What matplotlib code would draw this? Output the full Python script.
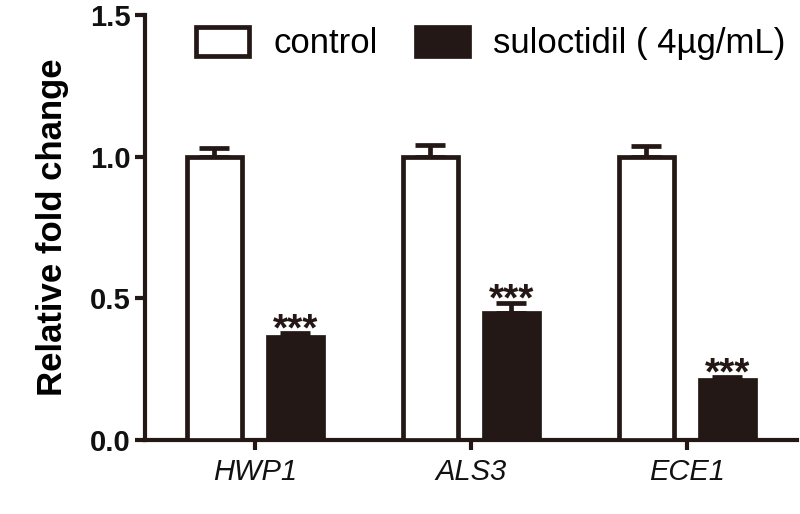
import matplotlib
matplotlib.use("Agg")
import matplotlib.pyplot as plt
import numpy as np

plt.rcParams['font.family'] = ['Liberation Sans', 'DejaVu Sans']

genes = ["HWP1", "ALS3", "ECE1"]
control = [1.0, 1.0, 1.0]
control_err = [0.03, 0.042, 0.038]
sulo = [0.365, 0.447, 0.21]
sulo_err = [0.012, 0.036, 0.012]
labels = ["control", "suloctidil ( 4\u00b5g/mL)"]
sig = ["***", "***", "***"]

dark = "#231815"
fig = plt.figure(figsize=(8, 5.14), dpi=100)
ax = fig.add_axes([0.181, 0.144, 0.815, 0.827])

x = np.arange(len(genes))
w = 0.255
off = 0.1875
lw = 3.4
zeros = [0] * len(genes)
b1 = ax.bar(x - off, control, w, color="white", edgecolor=dark, linewidth=lw,
            yerr=[zeros, control_err],
            error_kw=dict(ecolor=dark, elinewidth=lw, capsize=10.5, capthick=lw, zorder=2),
            label=labels[0], zorder=3)
b2 = ax.bar(x + off, sulo, w, color=dark, edgecolor=dark, linewidth=lw,
            yerr=[zeros, sulo_err],
            error_kw=dict(ecolor=dark, elinewidth=lw, capsize=10.5, capthick=lw, zorder=2),
            label=labels[1], zorder=3)
for xi, v, e, s in zip(x, sulo, sulo_err, sig):
    ax.text(xi + off, v + e - 0.055, s, ha="center", va="bottom", fontsize=28,
            fontweight="bold", color=dark)

ax.set_xlim(-0.51, 2.51)
ax.set_ylim(0, 1.5)
ax.set_yticks([0.0, 0.5, 1.0, 1.5])
ax.set_yticklabels(["0.0", "0.5", "1.0", "1.5"], fontsize=21, fontweight="bold")
ax.set_xticks(x)
ax.set_xticklabels(genes, fontsize=21, fontstyle="italic")
ax.set_ylabel("Relative fold change", fontsize=25, fontweight="bold", labelpad=15)
for sp in ["top", "right"]:
    ax.spines[sp].set_visible(False)
for sp in ["left", "bottom"]:
    ax.spines[sp].set_linewidth(3)
    ax.spines[sp].set_color(dark)
ax.tick_params(width=3, length=7, color=dark, pad=3, labelcolor="#111111")
ax.tick_params(axis="x", pad=6)

leg = ax.legend(loc="upper left", bbox_to_anchor=(0.031, 1.045), ncol=2, frameon=False,
                fontsize=25, handlelength=1.53, handleheight=0.9, columnspacing=1.1,
                handletextpad=0.69)
fig.savefig("out.png", dpi=100)
